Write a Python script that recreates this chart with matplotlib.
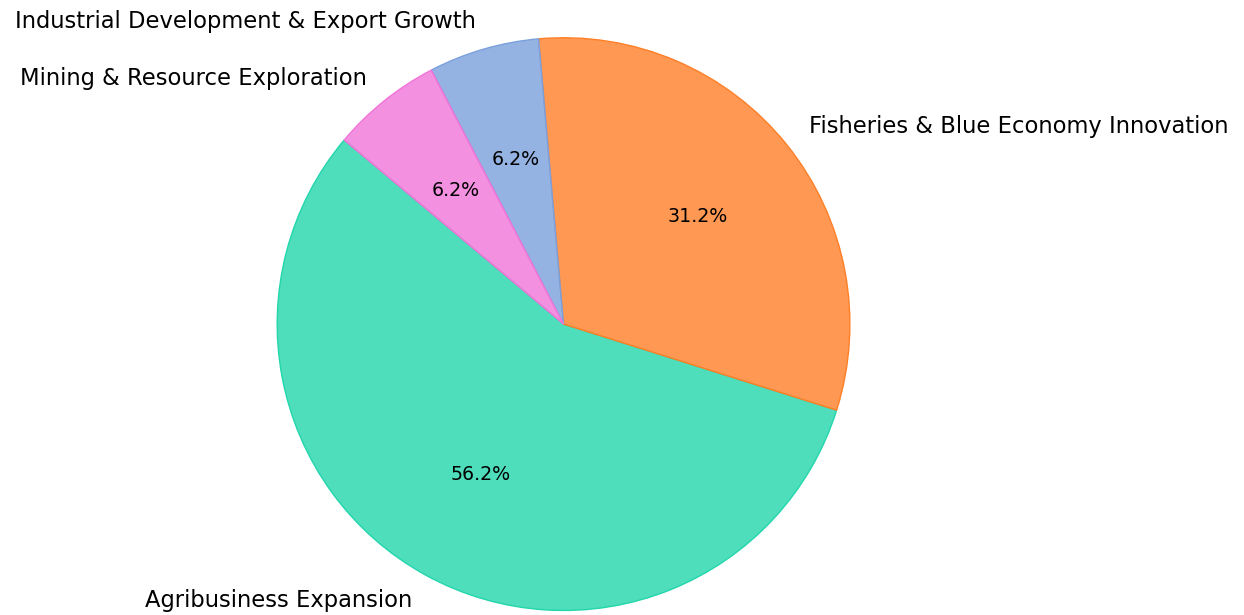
import matplotlib.pyplot as plt
from matplotlib.colors import to_rgba

labels = ['Agribusiness Expansion', 'Fisheries & Blue Economy Innovation',
          'Industrial Development & Export Growth', 'Mining & Resource Exploration']
values = [9, 5, 1, 1]
base_colors = ['#22D6AC', '#FF7F27', '#7AA0DD', '#F174D8']

fig = plt.figure(figsize=(12.44, 6.15), dpi=100)
ax = fig.add_axes([0.1652, -0.109, 0.5756, 1.164])

faces = [to_rgba(c, 0.8) for c in base_colors]
wedges, texts, autotexts = ax.pie(values, labels=labels, colors=faces, autopct='%1.1f%%',
                                  startangle=140, textprops={'fontsize': 16.3})
for w, c in zip(wedges, base_colors):
    w.set_edgecolor(c)
    w.set_linewidth(1)
for t in autotexts:
    t.set_fontsize(13.7)
ax.set_xlim(-1.25, 1.25)
ax.set_ylim(-1.25, 1.25)
ax.set_aspect('equal')

fig.savefig('out.png', dpi=100)
